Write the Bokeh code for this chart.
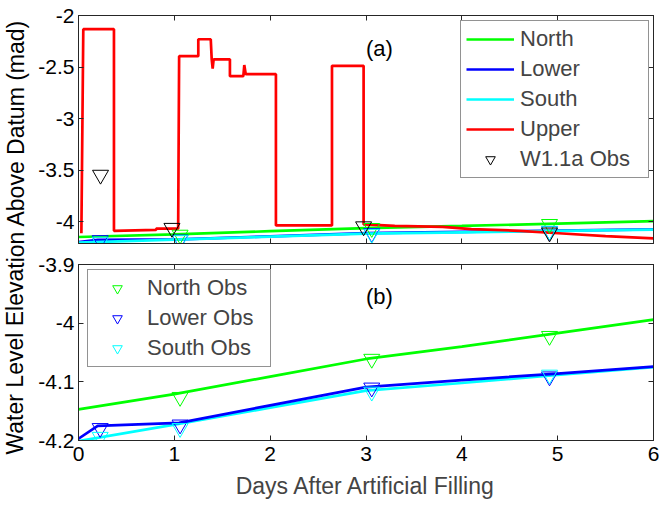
from bokeh.plotting import figure
from bokeh.layouts import row, column
from bokeh.models import (Range1d, FixedTicker, LinearAxis, Legend, LegendItem,
                          Label, CustomJSTickFormatter)
from bokeh.embed import file_html
from bokeh.resources import INLINE

FONT = "Liberation Sans"
AX = "#262626"

# ---------------- data ----------------
x_ticks = [0, 1, 2, 3, 4, 5, 6]
y_ticks_a = [-4, -3.5, -3, -2.5, -2]
y_labels_a = ["-4", "-3.5", "-3", "-2.5", "-2"]
y_ticks_b = [-4.2, -4.1, -4.0, -3.9]
y_labels_b = ["-4.2", "-4.1", "-4", "-3.9"]

days_north = [0, 1, 2, 3, 4, 5, 6]
north = [-4.147, -4.121, -4.091, -4.061, -4.040, -4.017, -3.994]

days_lower = [0, 0.2, 1.05, 2, 3, 4, 5, 6]
lower = [-4.197, -4.175, -4.170, -4.140, -4.109, -4.097, -4.086, -4.074]

days_south = [0, 1, 2, 3, 4, 5, 6]
south = [-4.201, -4.173, -4.144, -4.115, -4.102, -4.088, -4.075]

days_upper = [0.03, 0.05, 0.37, 0.37, 0.81, 0.81, 1.04, 1.05, 1.25, 1.25, 1.38,
              1.39, 1.40, 1.41, 1.58, 1.58, 1.72, 1.73, 1.745, 2.06, 2.06, 2.645,
              2.645, 2.975, 2.975, 3.3, 3.8, 4.1, 4.6, 5.05, 5.5, 6.0]
upper = [-4.11, -2.133, -2.133, -4.087, -4.078, -4.066, -4.066, -2.394, -2.394,
         -2.23, -2.23, -2.425, -2.515, -2.425, -2.425, -2.588, -2.588, -2.48,
         -2.569, -2.569, -4.035, -4.035, -2.488, -2.488, -4.025, -4.040, -4.048,
         -4.070, -4.087, -4.113, -4.139, -4.161]

obs_w11a_days = [0.23, 0.975, 2.975, 4.915]
obs_w11a = [-3.545, -4.06, -4.045, -4.105]
obs_north_days = [1.06, 3.06, 4.915]
obs_north = [-4.126, -4.061, -4.022]
obs_lower_days = [0.226, 1.06, 3.06, 4.915]
obs_lower = [-4.179, -4.173, -4.110, -4.091]
obs_south_days = [0.226, 1.06, 3.06, 4.915]
obs_south = [-4.194, -4.179, -4.117, -4.088]

GREEN, BLUE, CYAN, RED = "#00ff00", "#0000ff", "#00ffff", "#ff0000"
LW = 2.7
MS = 16
LAB_W = 30
LEFT = 48
FIG_W = 629

empty_fmt = CustomJSTickFormatter(code="return ''")


def style_axis(ax, ticks, labels=None, show=True):
    ax.ticker = FixedTicker(ticks=ticks)
    ax.axis_line_color = AX
    ax.major_tick_line_color = AX
    ax.major_tick_in = 5
    ax.major_tick_out = 0
    ax.minor_tick_line_color = None
    if show:
        ax.major_label_text_font = FONT
        ax.major_label_text_font_size = "21px"
        ax.major_label_text_color = "black"
        if labels is not None:
            ax.major_label_overrides = {t: s for t, s in zip(ticks, labels)}
    else:
        ax.formatter = empty_fmt
        ax.major_label_text_font_size = "0px"
        ax.major_label_standoff = 0


def make_fig(h, yr, yticks, ylabels, btop, bbot, xlabels):
    p = figure(width=FIG_W, height=h, x_range=Range1d(0, 6), y_range=Range1d(*yr),
               output_backend="svg", toolbar_location=None,
               min_border_left=LEFT, min_border_right=6,
               min_border_top=btop, min_border_bottom=bbot)
    p.grid.visible = False
    p.outline_line_color = AX
    p.outline_line_width = 1
    bx = p.xaxis[0]
    ly = p.yaxis[0]
    style_axis(bx, x_ticks, show=xlabels)
    style_axis(ly, yticks, labels=ylabels)
    ly.major_label_standoff = 4
    if xlabels:
        bx.major_label_standoff = 6
    r_ax = LinearAxis()
    style_axis(r_ax, yticks, show=False)
    p.add_layout(r_ax, "right")
    t_ax = LinearAxis()
    style_axis(t_ax, x_ticks, show=False)
    p.add_layout(t_ax, "above")
    return p, bx


def style_legend(lg, lw):
    lg.border_line_color = AX
    lg.border_line_width = 1
    lg.background_fill_color = "white"
    lg.background_fill_alpha = 1
    lg.label_text_font = FONT
    lg.label_text_font_size = "22px"
    lg.glyph_width = 48
    lg.glyph_height = 24
    lg.label_height = 24
    lg.label_width = lw
    lg.spacing = 4
    lg.padding = 5
    lg.label_standoff = 6
    lg.margin = 0


# ---------------- panel (a) ----------------
p1, bx1 = make_fig(252, (-4.21, -2), y_ticks_a, y_labels_a, 15, 9, False)
rn = p1.line(days_north, north, line_color=GREEN, line_width=LW)
rl = p1.line(days_lower, lower, line_color=BLUE, line_width=LW)
rs = p1.line(days_south, south, line_color=CYAN, line_width=LW)
ru = p1.line(days_upper, upper, line_color=RED, line_width=LW)
p1.scatter(obs_north_days, obs_north, marker="inverted_triangle", size=MS,
           fill_color=None, line_color=GREEN, line_width=1)
p1.scatter(obs_lower_days, obs_lower, marker="inverted_triangle", size=MS,
           fill_color=None, line_color=BLUE, line_width=1)
p1.scatter(obs_south_days, obs_south, marker="inverted_triangle", size=MS,
           fill_color=None, line_color=CYAN, line_width=1)
rw = p1.scatter(obs_w11a_days, obs_w11a, marker="inverted_triangle", size=MS,
                fill_color=None, line_color="black", line_width=1)
lg1 = Legend(items=[LegendItem(label="North", renderers=[rn]),
                    LegendItem(label="Lower", renderers=[rl]),
                    LegendItem(label="South", renderers=[rs]),
                    LegendItem(label="Upper", renderers=[ru]),
                    LegendItem(label="W1.1a Obs", renderers=[rw])],
             location=(382, 65))
style_legend(lg1, 123)
p1.add_layout(lg1)
p1.add_layout(Label(x=3.14, y=-2.317, text="(a)", text_align="center",
                    text_baseline="middle", text_font=FONT,
                    text_font_size="22px", text_color="black"))

# ---------------- panel (b) ----------------
p2, bx2 = make_fig(250, (-4.2, -3.9), y_ticks_b, y_labels_b, 12, 62, True)
bx2.axis_label = "Days After Artificial Filling"
bx2.axis_label_text_font = FONT
bx2.axis_label_text_font_size = "23px"
bx2.axis_label_text_font_style = "normal"
bx2.axis_label_standoff = 9
p2.line(days_north, north, line_color=GREEN, line_width=LW)
p2.line(days_south, south, line_color=CYAN, line_width=LW)
p2.line(days_lower, lower, line_color=BLUE, line_width=LW)
on = p2.scatter(obs_north_days, obs_north, marker="inverted_triangle", size=MS,
                fill_color=None, line_color=GREEN, line_width=1)
ol = p2.scatter(obs_lower_days, obs_lower, marker="inverted_triangle", size=MS,
                fill_color=None, line_color=BLUE, line_width=1)
osr = p2.scatter(obs_south_days, obs_south, marker="inverted_triangle", size=MS,
                 fill_color=None, line_color=CYAN, line_width=1)
lg2 = Legend(items=[LegendItem(label="North Obs", renderers=[on]),
                    LegendItem(label="Lower Obs", renderers=[ol]),
                    LegendItem(label="South Obs", renderers=[osr])],
             location=(9, 73))
style_legend(lg2, 118)
p2.add_layout(lg2)
p2.add_layout(Label(x=3.14, y=-3.955, text="(b)", text_align="center",
                    text_baseline="middle", text_font=FONT,
                    text_font_size="22px", text_color="black"))

# ---------------- shared y label ----------------
TOTAL_H = 252 + 250
lab = figure(width=LAB_W, height=TOTAL_H, x_range=Range1d(0, LAB_W),
             y_range=Range1d(0, TOTAL_H),
             output_backend="svg", toolbar_location=None,
             x_axis_location=None, y_axis_location=None,
             min_border=0, outline_line_color=None)
lab.grid.visible = False
lab.add_layout(Label(x=15, y=TOTAL_H - 236.5,
                     text="Water Level Elevation Above Datum (mad)",
                     angle=1.5707963, text_align="center",
                     text_baseline="middle", text_font=FONT,
                     text_font_size="23px", text_color="black"))

layout = row(lab, column(p1, p2))
open("out.html", "w").write(file_html(layout, INLINE))
